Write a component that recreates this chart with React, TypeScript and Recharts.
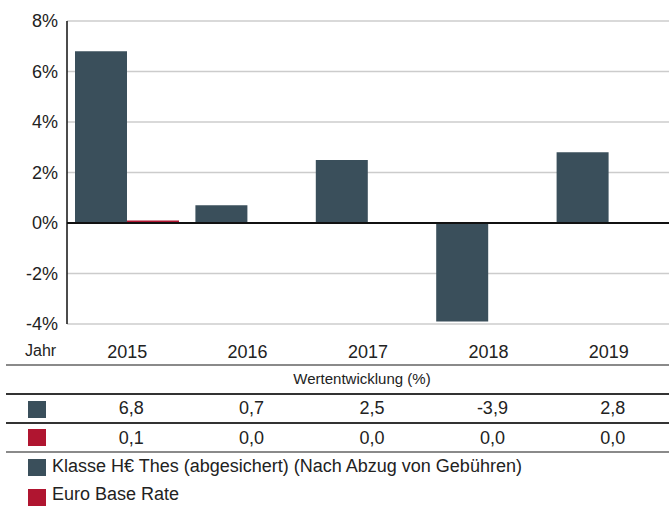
import React from 'react';
import { BarChart, Bar, XAxis, YAxis, CartesianGrid, ReferenceLine } from 'recharts';

const years = ['2015', '2016', '2017', '2018', '2019'];
const fundReturns = [6.8, 0.7, 2.5, -3.9, 2.8];
const baseRate = [0.1, 0.0, 0.0, 0.0, 0.0];
const yTicks = [-4, -2, 0, 2, 4, 6, 8];
const fundName = 'Klasse H€ Thes (abgesichert) (Nach Abzug von Gebühren)';
const baseName = 'Euro Base Rate';

const FUND_COLOR = '#3a4f5b';
const BASE_COLOR = '#b01530';
const TEXT = '#222';
const FONT = '"Liberation Sans", Arial, Helvetica, sans-serif';

const data = years.map((y, i) => ({ year: y, fund: fundReturns[i], base: baseRate[i] }));

const W = 669;
const PLOT_LEFT = 67;
const PLOT_W = W - PLOT_LEFT;
const colCenter = (i: number) => PLOT_LEFT + (i + 0.5) * (PLOT_W / years.length);
const fmt = (v: number) => v.toFixed(1).replace('.', ',');

const Line = ({ y, color, h }: { y: number; color: string; h: number }) => (
  <div style={{ position: 'absolute', left: 6, width: W - 6, top: y - h / 2, height: h, background: color }} />
);

const Swatch = ({ y, color }: { y: number; color: string }) => (
  <div style={{ position: 'absolute', left: 28, top: y - 8, width: 18, height: 17, background: color }} />
);

const Txt = ({ x, y, children, size = 18, align = 'center' }: any) => {
  const style: React.CSSProperties = {
    position: 'absolute',
    top: y - 12,
    height: 24,
    lineHeight: '24px',
    fontSize: size,
    color: TEXT,
    whiteSpace: 'nowrap',
  };
  if (align === 'center') {
    style.left = x - 150;
    style.width = 300;
    style.textAlign = 'center';
  } else {
    style.left = x;
  }
  return <div style={style}>{children}</div>;
};

export default function App() {
  return (
    <div style={{ position: 'absolute', left: 0, top: 0, width: W, height: 506, background: '#fff', fontFamily: FONT }}>
      <BarChart
        width={W}
        height={364}
        data={data}
        margin={{ top: 21, right: 0, left: 0, bottom: 0 }}
        barGap={0}
        barSize={52}
      >
        <CartesianGrid vertical={false} stroke="#cccccc" strokeWidth={1.5} />
        <XAxis
          dataKey="year"
          height={40}
          axisLine={false}
          tickLine={false}
          tickSize={0}
          tickMargin={21}
          tick={{ fill: TEXT, fontSize: 18, fontFamily: FONT }}
        />
        <YAxis
          width={67}
          domain={[-4, 8]}
          ticks={yTicks}
          interval={0}
          tickFormatter={(v: number) => `${v}%`}
          axisLine={{ stroke: '#111', strokeWidth: 1.5 }}
          tickLine={false}
          tickSize={0}
          tickMargin={9}
          tick={{ fill: TEXT, fontSize: 18, fontFamily: FONT }}
        />
        <Bar dataKey="fund" name={fundName} fill={FUND_COLOR} isAnimationActive={false} />
        <Bar dataKey="base" name={baseName} fill={BASE_COLOR} isAnimationActive={false} />
        <ReferenceLine y={0} stroke="#111" strokeWidth={2} />
      </BarChart>

      <Txt x={25} y={351} align="left" size={16}>Jahr</Txt>

      <Line y={365} color="#8a8a8a" h={2} />
      <Txt x={362} y={379} size={15}>Wertentwicklung (%)</Txt>
      <Line y={394} color="#333" h={1.5} />
      <Swatch y={409} color={FUND_COLOR} />
      {fundReturns.map((v, i) => (
        <Txt key={'f' + i} x={colCenter(i) + 4} y={408}>{fmt(v)}</Txt>
      ))}
      <Line y={423} color="#333" h={1.5} />
      <Swatch y={437} color={BASE_COLOR} />
      {baseRate.map((v, i) => (
        <Txt key={'b' + i} x={colCenter(i) + 4} y={438}>{fmt(v)}</Txt>
      ))}
      <Line y={452} color="#8a8a8a" h={2} />

      <Swatch y={467} color={FUND_COLOR} />
      <Txt x={52} y={466} align="left" size={18}>{fundName}</Txt>
      <Swatch y={497} color={BASE_COLOR} />
      <Txt x={52} y={494} align="left" size={18}>{baseName}</Txt>
    </div>
  );
}
